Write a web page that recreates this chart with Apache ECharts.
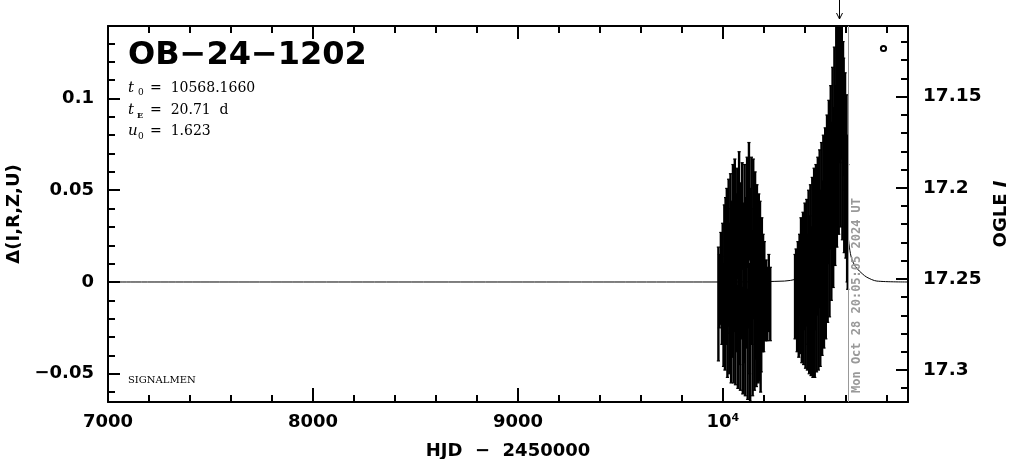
<!DOCTYPE html>
<html><head><meta charset="utf-8">
<script src="https://cdn.jsdelivr.net/npm/echarts@6/dist/echarts.min.js"></script>
<style>html,body{margin:0;padding:0;background:#fff}#c{width:1011px;height:459px}</style>
</head><body><div id="c"></div>
<script>
// ---- text / parameters ----
const titleText = 'OB−24−1202';
const t0 = 10568.1660, tE = 20.71, u0 = 1.623;
const nowHJD = 10612.34;
const nowLabel = 'Mon Oct 28 20:05:05 2024 UT';
const footText = 'SIGNALMEN';

// ---- axes ----
const xRange = [7000, 10903];
const leftRange = [-0.0654, 0.1395];
const rightRange = [17.1112, 17.3176];
const leftMajor = [-0.05, 0, 0.05, 0.1];
const leftMinor = [-0.06,-0.04,-0.03,-0.02,-0.01,0.01,0.02,0.03,0.04,0.06,0.07,0.08,0.09,0.11,0.12,0.13];
const rightMajor = [17.15, 17.2, 17.25, 17.3];
const rightMinor = [17.12,17.13,17.14,17.16,17.17,17.18,17.19,17.21,17.22,17.23,17.24,17.26,17.27,17.28,17.29,17.31];

// ---- season 1 data ----
const s1HJD = [9978,9983,9990,9995,9999,10003,10007,10010,10013,10016,10019,10022,10025,10028,10031,10034,10037,10040,10043,10046,10049,10052,10055,10058,10061,10064,10067,10070,10073,10076,10079,10082,10085,10088,10091,10094,10097,10100,10103,10106,10109,10112,10115,10118,10121,10124,10127,10130,10133,10136,10139,10142,10145,10148,10151,10154,10157,10160,10163,10166,10169,10172,10175,10178,10181,10184,10187,10190,10193,10196,10199,10202,10206,10211,10217,10224,10231];
const s1Delta = [-0.012,-0.005,0.002,-0.010,0.005,-0.018,0.012,-0.022,0.018,-0.004,0.022,-0.025,0.008,0.028,-0.020,0.002,0.030,-0.027,0.014,-0.010,0.034,-0.028,0.006,0.036,-0.026,0.018,-0.008,0.032,-0.030,0.010,0.040,-0.015,-0.030,0.024,0.002,0.036,-0.032,0.012,-0.012,0.034,-0.033,0.016,-0.006,0.038,-0.034,0.008,0.044,-0.020,-0.034,0.020,0.038,-0.003,-0.032,0.036,0.010,-0.030,0.030,-0.012,-0.028,0.024,0.002,-0.027,0.018,-0.024,0.014,-0.030,-0.022,0.008,-0.012,0.000,-0.014,0.000,-0.012,-0.010,-0.012,-0.006,-0.012];
const s1Err = [0.031,0.020,0.025,0.024,0.027,0.028,0.030,0.026,0.028,0.030,0.029,0.027,0.032,0.028,0.030,0.030,0.029,0.028,0.030,0.031,0.030,0.027,0.033,0.031,0.030,0.030,0.030,0.030,0.028,0.032,0.031,0.030,0.029,0.030,0.033,0.029,0.029,0.031,0.032,0.030,0.029,0.030,0.030,0.030,0.030,0.033,0.032,0.030,0.031,0.031,0.030,0.031,0.030,0.031,0.030,0.029,0.030,0.030,0.029,0.029,0.030,0.028,0.030,0.030,0.030,0.030,0.027,0.027,0.026,0.026,0.024,0.022,0.020,0.022,0.020,0.021,0.020];

// ---- season 2 data ----
const s2HJD = [10352,10357,10362,10366,10370,10374,10378,10381,10385,10388,10391,10394,10397,10400,10403,10406,10409,10412,10415,10418,10421,10424,10427,10430,10433,10436,10439,10442,10445,10448,10451,10454,10457,10460,10463,10466,10469,10472,10475,10478,10481,10484,10487,10490,10493,10496,10499,10502,10505,10508,10511,10514,10517,10520,10523,10526,10529,10532,10535,10538,10541,10544,10547,10550,10553,10556,10559,10562,10565,10568,10571,10574,10577,10580,10583,10586,10589,10592,10596,10600,10603,10606,10609];
const s2Delta = [-0.008,-0.002,-0.014,0.000,-0.016,0.004,-0.012,0.010,-0.018,0.002,0.012,-0.017,0.004,0.016,-0.018,0.006,0.018,-0.020,-0.004,0.022,-0.021,0.006,0.024,-0.020,0.000,0.028,-0.022,0.010,0.032,-0.020,0.004,0.034,-0.018,0.012,0.038,-0.017,0.016,0.042,-0.016,0.020,0.046,-0.010,0.024,0.050,-0.006,0.028,0.054,0.000,0.034,0.060,0.008,0.040,0.068,0.012,0.048,0.076,0.020,0.056,0.086,0.028,0.064,0.096,0.040,0.075,0.108,0.050,0.090,0.112,0.058,0.098,0.116,0.062,0.100,0.110,0.056,0.098,0.090,0.050,0.082,0.046,0.070,0.040,0.030];
const s2Err = [0.023,0.020,0.024,0.022,0.025,0.022,0.027,0.025,0.026,0.028,0.026,0.028,0.030,0.027,0.029,0.030,0.027,0.028,0.030,0.028,0.029,0.030,0.029,0.031,0.030,0.029,0.030,0.030,0.030,0.032,0.030,0.030,0.031,0.030,0.030,0.031,0.030,0.030,0.030,0.030,0.030,0.030,0.031,0.030,0.030,0.030,0.030,0.031,0.030,0.031,0.030,0.030,0.031,0.031,0.030,0.031,0.030,0.031,0.031,0.031,0.031,0.032,0.031,0.032,0.032,0.031,0.032,0.033,0.032,0.033,0.033,0.032,0.033,0.032,0.033,0.033,0.032,0.034,0.032,0.033,0.032,0.040,0.034];

// ---- model curve ----
const modelHJD = [7000,9900,10300,10420,10470,10500,10520,10540,10555,10568,10581,10596,10610,10617,10630,10653,10680,10702,10751,10903];
const modelDelta = [0,0,0.0005,0.004,0.010,0.018,0.030,0.055,0.085,0.110,0.085,0.050,0.027,0.019,0.012,0.0075,0.0045,0.0026,0.0005,0];

const F = 'DejaVu Sans';

function errItem(params, api) {
  const x = api.value(0), c = api.value(1), e = api.value(2);
  const top = api.coord([x, c + e]);
  const bot = api.coord([x, c - e]);
  const w = 1.6;
  const st = { stroke: '#000', lineWidth: 2.4 };
  return { type: 'group', children: [
    { type: 'line', shape: { x1: top[0], y1: top[1], x2: bot[0], y2: bot[1] }, style: st },
    { type: 'line', shape: { x1: top[0] - w, y1: top[1], x2: top[0] + w, y2: top[1] }, style: { stroke: '#000', lineWidth: 1.2 } },
    { type: 'line', shape: { x1: bot[0] - w, y1: bot[1], x2: bot[0] + w, y2: bot[1] }, style: { stroke: '#000', lineWidth: 1.2 } }
  ]};
}

const chart = echarts.init(document.getElementById('c'), null, { renderer: 'canvas' });
const axisLine = { show: true, onZero: false, lineStyle: { color: '#000', width: 2 } };
const labelStyle = { color: '#000', fontFamily: F, fontWeight: 'bold', fontSize: 18 };

const option = {
  backgroundColor: '#fff',
  animation: false,
  grid: { left: 108, right: 103, top: 26, bottom: 57, containLabel: false, outerBoundsMode: 'none' },
  xAxis: [
    { type: 'value', min: xRange[0], max: xRange[1], interval: 1000, position: 'bottom',
      axisLine, splitLine: { show: false },
      axisTick: { inside: true, length: 14, lineStyle: { color: '#000', width: 2 } },
      minorTick: { show: true, splitNumber: 5, length: 7, lineStyle: { color: '#000', width: 2 } },
      axisLabel: Object.assign({ margin: 11, formatter: v => v === 10000 ? '10⁴' : String(v), showMaxLabel: false }, labelStyle),
      name: 'HJD  −  2450000', nameLocation: 'middle', nameGap: 40,
      nameTextStyle: { color: '#000', fontFamily: F, fontWeight: 'bold', fontSize: 18 } },
    { type: 'value', min: xRange[0], max: xRange[1], interval: 1000, position: 'top',
      axisLine, splitLine: { show: false },
      axisTick: { inside: true, length: 13, lineStyle: { color: '#000', width: 2 } },
      minorTick: { show: true, splitNumber: 5, length: 7, lineStyle: { color: '#000', width: 2 } },
      axisLabel: { show: false } }
  ],
  yAxis: [
    { type: 'value', min: leftRange[0], max: leftRange[1], position: 'left',
      axisLine, splitLine: { show: false },
      axisTick: { inside: true, length: 12, customValues: leftMajor, lineStyle: { color: '#000', width: 2 } },
      axisLabel: Object.assign({ margin: 14, customValues: leftMajor,
        formatter: v => Math.abs(v) < 1e-9 ? '0' : (v < 0 ? '−' + String(Math.abs(v)) : String(v)) }, labelStyle),
      name: 'Δ(I,R,Z,U)', nameLocation: 'middle', nameGap: 78, nameRotate: 90,
      nameTextStyle: { color: '#000', fontFamily: F, fontWeight: 'bold', fontSize: 18 } },
    { type: 'value', min: leftRange[0], max: leftRange[1], position: 'left',
      axisLine: { show: false, onZero: false }, splitLine: { show: false },
      axisTick: { inside: true, length: 7, customValues: leftMinor, lineStyle: { color: '#000', width: 2 } },
      axisLabel: { show: false } },
    { type: 'value', min: rightRange[0], max: rightRange[1], inverse: true, position: 'right',
      axisLine, splitLine: { show: false },
      axisTick: { inside: true, length: 12, customValues: rightMajor, lineStyle: { color: '#000', width: 2 } },
      axisLabel: { margin: 15, customValues: rightMajor, formatter: v => String(v),
        color: '#000', fontFamily: F, fontWeight: 'bold', fontSize: 18.5 },
      name: '{a|OGLE }{b|I}', nameLocation: 'middle', nameGap: 72, nameRotate: 90,
      nameTextStyle: { color: '#000', fontFamily: F, fontWeight: 'bold', fontSize: 18,
        rich: { a: { fontFamily: F, fontWeight: 'bold', fontSize: 18, color: '#000' },
                b: { fontFamily: F, fontWeight: 'bold', fontStyle: 'italic', fontSize: 18, color: '#000' } } } },
    { type: 'value', min: rightRange[0], max: rightRange[1], inverse: true, position: 'right',
      axisLine: { show: false, onZero: false }, splitLine: { show: false },
      axisTick: { inside: true, length: 7, customValues: rightMinor, lineStyle: { color: '#000', width: 2 } },
      axisLabel: { show: false } }
  ],
  series: [
    { type: 'line', name: 'model', xAxisIndex: 0, yAxisIndex: 0, z: 1, smooth: 0.3,
      showSymbol: false, lineStyle: { color: '#000', width: 1 },
      data: modelHJD.map((h, i) => [h, modelDelta[i]]) },
    { type: 'custom', name: 's1', xAxisIndex: 0, yAxisIndex: 0, z: 2, clip: true,
      renderItem: errItem, encode: { x: 0, y: 1 },
      data: s1HJD.map((h, i) => [h, s1Delta[i], s1Err[i]]) },
    { type: 'custom', name: 's2', xAxisIndex: 0, yAxisIndex: 0, z: 2, clip: true,
      renderItem: errItem, encode: { x: 0, y: 1 },
      data: s2HJD.map((h, i) => [h, s2Delta[i], s2Err[i]]) }
  ]
};
chart.setOption(option);

// ---- annotations placed through the axis scales ----
const px = v => chart.convertToPixel({ xAxisIndex: 0 }, v);
const py = v => chart.convertToPixel({ yAxisIndex: 0 }, v);
const yTop = py(leftRange[1]), yBot = py(leftRange[0]);
const xNow = Math.round(px(nowHJD)) + 0.5;
const xT0 = Math.round(px(t0)) + 0.5;
const xL = px(xRange[0]);

const txt = (x, y, s, font, extra) => Object.assign({ type: 'text', x, y,
  style: Object.assign({ text: s, font, fill: '#000', textAlign: 'left', textVerticalAlign: 'middle' }, extra || {}) });

chart.setOption({ graphic: [
  { type: 'line', z: 50, shape: { x1: xNow, y1: yTop, x2: xNow, y2: yBot }, style: { stroke: '#999', lineWidth: 1 } },
  { type: 'text', z: 51, x: xNow + 8, y: yBot - 9, rotation: Math.PI / 2,
    style: { text: nowLabel, font: 'bold 12px "DejaVu Sans Mono"', fill: '#999', textAlign: 'left', textVerticalAlign: 'middle' } },
  { type: 'line', z: 50, shape: { x1: xT0, y1: 0, x2: xT0, y2: 19 }, style: { stroke: '#000', lineWidth: 1 } },
  { type: 'polyline', z: 50, shape: { points: [[xT0 - 3, 13], [xT0, 19], [xT0 + 3, 13]] }, style: { stroke: '#000', lineWidth: 1, fill: null } },
  { type: 'circle', z: 50, shape: { cx: 883.5, cy: 48.5, r: 2.6 }, style: { stroke: '#000', lineWidth: 2, fill: '#fff' } },
  txt(xL + 20, 56, titleText, 'bold 32px "DejaVu Sans"'),
  txt(xL + 20, 88, 't', 'italic 15px "DejaVu Serif"'),
  txt(xL + 30, 93, '0', '9px "DejaVu Serif"'),
  txt(xL + 42, 88, '=  10568.1660', '14px "DejaVu Serif"'),
  txt(xL + 20, 110, 't', 'italic 15px "DejaVu Serif"'),
  txt(xL + 29, 116, 'E', 'bold 8px "DejaVu Serif"'),
  txt(xL + 42, 110, '=  20.71  d', '14px "DejaVu Serif"'),
  txt(xL + 20, 131, 'u', 'italic 15px "DejaVu Serif"'),
  txt(xL + 30, 137, '0', '9px "DejaVu Serif"'),
  txt(xL + 42, 131, '=  1.623', '14px "DejaVu Serif"'),
  txt(xL + 20, 380, footText, '10px "DejaVu Serif"')
]});
</script>
</body></html>
